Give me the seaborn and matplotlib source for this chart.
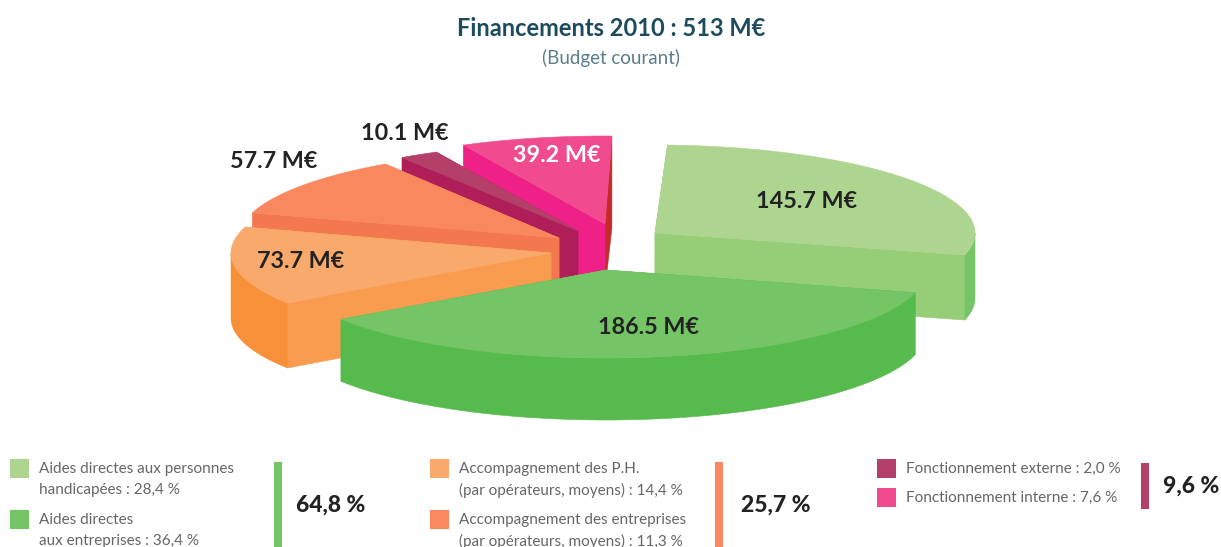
import numpy as np
import matplotlib
matplotlib.use("Agg")
import matplotlib.pyplot as plt
from matplotlib.patches import Polygon, Rectangle
import seaborn as sns

# ---- data ----
slices = ["Aides directes aux personnes handicapées", "Fonctionnement interne", "Fonctionnement externe",
          "Accompagnement des entreprises", "Accompagnement des P.H.", "Aides directes aux entreprises"]
values = [145.7, 39.2, 10.1, 57.7, 73.7, 186.5]
value_labels = ["145.7 M€", "39.2 M€", "10.1 M€", "57.7 M€", "73.7 M€", "186.5 M€"]
title = "Financements 2010 : 513 M€"
subtitle = "(Budget courant)"
legend_lines = ["Aides directes aux personnes\nhandicapées : 28,4 %", "Aides directes\naux entreprises : 36,4 %",
                "Accompagnement des P.H.\n(par opérateurs, moyens) : 14,4 %",
                "Accompagnement des entreprises\n(par opérateurs, moyens) : 11,3 %",
                "Fonctionnement externe : 2,0 %", "Fonctionnement interne : 7,6 %"]
group_labels = ["64,8 %", "25,7 %", "9,6 %"]

# ---- style / layout ----
sns.set_theme(style="white")
plt.rcParams["font.family"] = ["Lato", "DejaVu Sans"]
top_cols = sns.color_palette(["#ADD590", "#F14B8F", "#B44069", "#F9885E", "#F9A96B", "#75C465"])
start_face = ["#96CE77", "#C62B2B", "#B01E5A", "#F4784F", "#F99C4F", "#56BA4C"]  # face at slice start angle
end_face = ["#96CE77", "#EF2087", "#B01E5A", "#F4784F", "#F99C4F", "#56BA4C"]    # face at slice end angle
arc_cols = ["#75C465", "#EF2087", "#B01E5A", "#F4784F", "#F79038", "#56BA4C"]
apex = [(655, 233), (605, 224), (578, 231), (559, 238), (551, 253), (606, 270)]
nudge = [0.5, 1.5, 1.5, 1.0, 0.5, 0]             # small per-slice rotation
depths = [65, 65, 65, 65, 65, 62]
start_rim_depth = [65, 92, 65, 65, 65, 62]
label_pos = [(807, 201), (557, 156), (405, 134), (274, 161), (301, 262), (649, 328)]
label_cols = ["#222222", "#FFFFFF", "#222222", "#222222", "#222222", "#222222"]
RX, RY, START = 320, 88, -15

fig = plt.figure(figsize=(12.21, 5.47), dpi=100, facecolor="white")
ax = fig.add_axes([0, 0, 1, 1])
ax.set_xlim(0, 1221)
ax.set_ylim(547, 0)
ax.axis("off")


def rim(c, a0, a1, n=80):
    t = np.radians(np.linspace(a0, a1, n))
    return np.column_stack([c[0] + RX * np.cos(t), c[1] - RY * np.sin(t)])


def draw_poly(pts, col, z):
    ax.add_patch(Polygon(pts, closed=True, facecolor=col, edgecolor=col, linewidth=0.4, zorder=z))


angles = np.concatenate([[0], np.cumsum(values)]) / np.sum(values) * 360 + START
for i, c in enumerate(apex):
    a0, a1 = angles[i] + nudge[i], angles[i + 1] + nudge[i]
    z = i * 3 + 1
    cc = np.array(c, float)
    down = np.array([0, depths[i]])
    p0, p1 = rim(c, a0, a0, 1)[0], rim(c, a1, a1, 1)[0]
    # radial faces
    draw_poly([cc, p0, p0 + np.array([0, start_rim_depth[i]]), cc + down], start_face[i], z)
    draw_poly([cc, p1, p1 + down, cc + down], end_face[i], z)
    # outer wall: only the part turned to the viewer
    for lo, hi in [(a0, min(a1, 0)), (max(a0, 180), min(a1, 360))]:
        if hi > lo:
            r = rim(c, lo, hi)
            draw_poly(np.vstack([r, (r + down)[::-1]]), arc_cols[i], z + 1)
    # top
    draw_poly(np.vstack([[cc], rim(c, a0, a1)]), top_cols[i], z + 2)

for txt, pos, col in zip(value_labels, label_pos, label_cols):
    ax.text(pos[0], pos[1], txt, color=col, fontsize=16.8, fontweight="bold",
            ha="center", va="center", zorder=40)

ax.text(611, 29, title, color="#1C4B5F", fontsize=17, fontweight="bold", ha="center", va="center")
ax.text(611, 58, subtitle, color="#5A7F8C", fontsize=13.5, ha="center", va="center")

# ---- legend ----
sq_x = [10, 10, 430, 430, 877, 877]
sq_y = [459, 510, 459, 510, 459, 488]
leg_cols = ["#ADD590", "#75C465", "#F9A96B", "#F9885E", "#B44069", "#F14B8F"]
for x, y, col, txt in zip(sq_x, sq_y, leg_cols, legend_lines):
    ax.add_patch(Rectangle((x, y), 19, 19, facecolor=col, edgecolor="none"))
    ax.text(x + 29, y + 3, txt, color="#666666", fontsize=11, ha="left", va="top", linespacing=1.6)

bar_x = [274, 715, 1141]
bar_w = [8, 8, 8]
bar_y = [(462, 547), (462, 547), (463, 509)]
bar_cols = ["#75C465", "#F9885E", "#B44069"]
group_pos = [(331, 505), (776, 505), (1191, 486)]
for x, w, (y0, y1), col in zip(bar_x, bar_w, bar_y, bar_cols):
    ax.add_patch(Rectangle((x, y0), w, y1 - y0, facecolor=col, edgecolor="none"))
for txt, pos in zip(group_labels, group_pos):
    ax.text(pos[0], pos[1], txt, color="#222222", fontsize=16.5, fontweight="black", ha="center", va="center")

fig.savefig("out.png", dpi=100, facecolor="white")
